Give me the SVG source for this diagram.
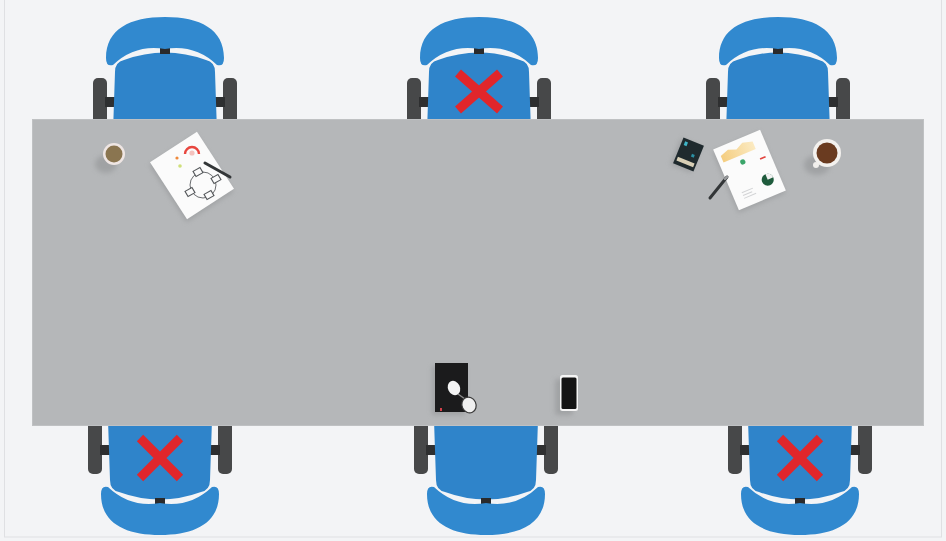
<svg xmlns="http://www.w3.org/2000/svg" width="946" height="541" viewBox="0 0 946 541">
  <style>
    .wheel { fill: #474849; }
    .bar { fill: #2e2f30; }
    .seat { fill: #2f84ca; }
    .back { fill: #3189cf; }
    .joint { fill: #2a2a2b; }
    .cross { stroke: #e1262b; stroke-width: 9; fill: none; }
    .shadow { fill: #8f9193; opacity: 0.55; filter: url(#soft); }
    .paper { fill: #fbfbfb; }
    .pen { stroke: #333638; stroke-width: 3; stroke-linecap: round; }
  </style>
  <defs>
    <filter id="soft" x="-50%" y="-50%" width="200%" height="200%">
      <feGaussianBlur stdDeviation="2.5"/>
    </filter>
    <linearGradient id="area" x1="0" y1="0" x2="1" y2="0">
      <stop offset="0" stop-color="#f3c56a"/>
      <stop offset="1" stop-color="#fbe7b8"/>
    </linearGradient>
    <!-- office chair seen from above, backrest at the top, seat pointing down -->
    <g id="chair">
      <rect class="wheel" x="-72" y="78" width="14" height="54" rx="5"/>
      <rect class="wheel" x="58" y="78" width="14" height="54" rx="5"/>
      <rect class="bar" x="-60" y="97" width="12" height="10"/>
      <rect class="bar" x="48" y="97" width="12" height="10"/>
      <path class="seat" d="M -52,132 L -50,72 Q -50,62 -41,60 Q 0,45 41,60 Q 50,62 50,72 L 52,132 Z"/>
      <rect class="joint" x="-5" y="46" width="10" height="8"/>
      <path class="back" d="M -59,58 C -59,29 -35,17 0,17 C 35,17 59,29 59,58 Q 59,67 52,65 Q 30,44 0,49 Q -30,44 -52,65 Q -59,67 -59,58 Z"/>
    </g>
  </defs>

  <!-- floor -->
  <rect x="0" y="0" width="946" height="541" fill="#f3f4f6"/>
  <rect x="4.5" y="-1" width="937" height="538" fill="none" stroke="#dfe0e3" stroke-width="1"/>

  <!-- chairs along the far side -->
  <g id="chair-top-left"><use href="#chair" transform="translate(165,0)"/></g>
  <g id="chair-top-middle"><use href="#chair" transform="translate(479,0)"/></g>
  <g id="chair-top-right"><use href="#chair" transform="translate(778,0)"/></g>

  <!-- chairs along the near side -->
  <g id="chair-bottom-left"><use href="#chair" transform="translate(160,552) scale(1,-1)"/></g>
  <g id="chair-bottom-middle"><use href="#chair" transform="translate(486,552) scale(1,-1)"/></g>
  <g id="chair-bottom-right"><use href="#chair" transform="translate(800,552) scale(1,-1)"/></g>

  <!-- table top -->
  <g id="table">
    <rect x="32" y="119" width="892" height="307" fill="#b5b7b9"/>
    <rect x="32.5" y="119.5" width="891" height="306" fill="none" stroke="#bfc1c3" stroke-width="1"/>
  </g>

  <!-- seats that are blocked -->
  <g id="blocked-marks">
    <path class="cross" d="M 458,73 L 500,110 M 500,73 L 458,110"/>
    <path class="cross" d="M 140,438 L 180,478 M 180,438 L 140,478"/>
    <path class="cross" d="M 780,438 L 820,478 M 820,438 L 780,478"/>
  </g>

  <!-- coffee cup, left -->
  <g id="cup-left">
    <ellipse class="shadow" cx="106" cy="164" rx="11" ry="9"/>
    <circle cx="114" cy="154" r="11" fill="#efe6e4"/>
    <circle cx="114" cy="154" r="8.5" fill="#8a7550"/>
  </g>

  <!-- sketch sheet with pen, left -->
  <g id="sheet-left">
    <g transform="translate(192,175.5) rotate(-33)">
      <rect class="shadow" x="-30" y="-32" width="56" height="68"/>
      <rect class="paper" x="-28" y="-34" width="56" height="68"/>
    </g>
    <path d="M 185,154 A 7,7 0 0 1 199,154" fill="none" stroke="#e8473f" stroke-width="2.4"/>
    <circle cx="192" cy="153" r="2.6" fill="#f4c2be"/>
    <circle cx="177" cy="158" r="1.6" fill="#ef8a3c"/>
    <circle cx="180" cy="166" r="1.8" fill="#cfe07a"/>
    <circle cx="203" cy="185" r="13" fill="none" stroke="#6b6d70" stroke-width="1"/>
    <g fill="#fbfbfb" stroke="#55585b" stroke-width="1.1">
      <rect x="194" y="169" width="8" height="6" transform="rotate(-30 198 172)"/>
      <rect x="212" y="176" width="8" height="6" transform="rotate(-30 216 179)"/>
      <rect x="205" y="192" width="8" height="6" transform="rotate(-30 209 195)"/>
      <rect x="186" y="189" width="8" height="6" transform="rotate(-30 190 192)"/>
    </g>
    <line class="pen" x1="205" y1="163" x2="230" y2="177"/>
  </g>

  <!-- closed notebook, right -->
  <g id="notebook-right" transform="translate(688.5,154.5) rotate(22)">
    <rect class="shadow" x="-13" y="-12" width="22" height="28"/>
    <rect x="-11" y="-14" width="22" height="28" fill="#1f2a2e"/>
    <rect x="-8" y="-11" width="3" height="4" fill="#3fb5c8"/>
    <rect x="3" y="-2" width="3" height="3" fill="#2b8fa3"/>
    <rect x="-9" y="6" width="18" height="4" fill="#d8cfb6"/>
  </g>

  <!-- report sheet with pen, right -->
  <g id="sheet-right">
    <g transform="translate(749.5,170) rotate(-23)">
      <rect class="shadow" x="-27" y="-31" width="51" height="66"/>
      <rect class="paper" x="-25.5" y="-33" width="51" height="66"/>
      <path d="M -21,-17 L -21,-24 L -12,-27 L -4,-24 L 4,-28 L 14,-25 L 14,-17 Z" fill="url(#area)" opacity="0.85"/>
      <circle cx="-3" cy="-10" r="2.6" fill="#3aa56a"/>
      <line x1="14" y1="-6" x2="20" y2="-6" stroke="#e2443f" stroke-width="1.6"/>
      <circle cx="13" cy="16" r="6" fill="#1f5b3c"/>
      <path d="M 13,16 L 13,10 A 6,6 0 0 1 19,16 Z" fill="#f2f2f2"/>
      <g stroke="#d2d3d5" stroke-width="1">
        <line x1="-16" y1="18" x2="-4" y2="18"/>
        <line x1="-16" y1="21" x2="-6" y2="21"/>
        <line x1="-16" y1="24" x2="-3" y2="24"/>
      </g>
    </g>
    <line class="pen" x1="710" y1="198" x2="727" y2="177"/>
    <line x1="725" y1="179" x2="727" y2="177" stroke="#9a9c9e" stroke-width="2.4" stroke-linecap="round"/>
  </g>

  <!-- coffee cup, right -->
  <g id="cup-right">
    <ellipse class="shadow" cx="817" cy="165" rx="13" ry="10"/>
    <circle cx="816" cy="165" r="3" fill="#f1efec"/>
    <circle cx="827" cy="153" r="14" fill="#f3f1ee"/>
    <circle cx="827" cy="153" r="10.5" fill="#6a3b20"/>
  </g>

  <!-- notebook with glasses -->
  <g id="notebook-glasses">
    <rect class="shadow" x="432" y="366" width="33" height="49"/>
    <rect x="435" y="363" width="33" height="49" fill="#1b1b1c"/>
    <rect x="440" y="408" width="2" height="3" fill="#d3404a"/>
    <line x1="458" y1="394" x2="465" y2="399" stroke="#8c8c8c" stroke-width="1.5"/>
    <ellipse cx="454" cy="388" rx="6" ry="7.5" transform="rotate(-25 454 388)" fill="#f4f4f4"/>
    <ellipse cx="469" cy="405" rx="7" ry="8" transform="rotate(-25 469 405)" fill="#f0f0f0" stroke="#3a3a3a" stroke-width="1.2"/>
  </g>

  <!-- phone -->
  <g id="phone">
    <rect class="shadow" x="555" y="379" width="18" height="36" rx="3"/>
    <rect x="560" y="375" width="18" height="36" rx="2.5" fill="#f4f4f4"/>
    <rect x="561.5" y="377.5" width="15" height="31.5" rx="1.5" fill="#141414"/>
  </g>
</svg>
